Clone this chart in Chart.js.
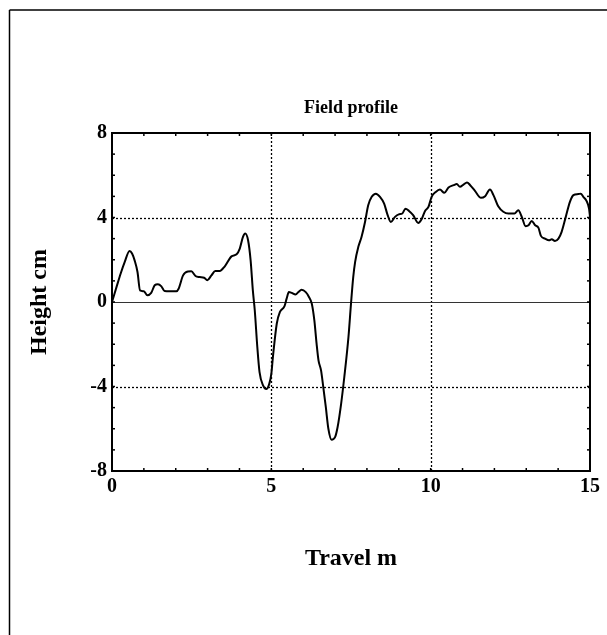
<!DOCTYPE html>
<html>
<head>
<meta charset="utf-8">
<script src="https://cdn.jsdelivr.net/npm/chart.js@4"></script>
<style>
  html, body { margin: 0; padding: 0; background: #fff; }
  canvas { display: block; }
</style>
</head>
<body>
<canvas id="perfil" width="607" height="635"></canvas>
<script>
// travel (m) and height (cm)
const travel = [0,0.15,0.27,0.40,0.55,0.63,0.71,0.80,0.88,1.00,1.11,1.23,1.34,1.44,1.55,1.65,1.81,2.02,2.09,2.23,
  2.38,2.49,2.62,2.75,2.89,2.99,3.12,3.24,3.38,3.54,3.75,3.91,4.01,4.11,4.18,4.27,4.35,4.42,4.48,4.56,
  4.63,4.74,4.84,4.93,5.00,5.05,5.17,5.27,5.41,5.48,5.55,5.64,5.76,5.85,5.95,6.08,6.18,6.27,6.35,6.42,
  6.48,6.56,6.63,6.71,6.79,6.89,7.00,7.08,7.19,7.29,7.42,7.50,7.57,7.63,7.73,7.83,7.94,8.04,8.15,8.28,
  8.41,8.54,8.65,8.75,8.88,9.00,9.11,9.21,9.32,9.45,9.61,9.71,9.82,9.93,10.03,10.16,10.29,10.43,10.56,10.72,
  10.82,10.92,11.03,11.14,11.24,11.39,11.58,11.71,11.86,11.97,12.12,12.28,12.44,12.63,12.75,12.86,12.98,13.07,13.17,13.28,
  13.38,13.46,13.59,13.71,13.80,13.90,14.01,14.11,14.24,14.37,14.48,14.63,14.71,14.79,14.89,14.97,15.00];
const height = [0,0.75,1.34,1.90,2.42,2.30,1.97,1.42,0.55,0.51,0.32,0.43,0.79,0.84,0.74,0.52,0.51,0.51,0.63,1.26,
  1.44,1.45,1.23,1.18,1.15,1.03,1.26,1.47,1.47,1.69,2.16,2.26,2.53,3.08,3.24,2.92,1.97,0.55,-0.39,-2.13,
  -3.32,-3.95,-4.12,-3.90,-3.40,-2.60,-1.03,-0.47,-0.21,0.16,0.47,0.43,0.35,0.47,0.58,0.47,0.24,-0.08,-0.87,-1.97,
  -2.76,-3.24,-4.03,-4.98,-6.00,-6.52,-6.40,-5.92,-4.82,-3.55,-1.66,-0.08,1.18,1.90,2.61,3.08,3.79,4.58,4.98,5.13,
  4.98,4.66,4.11,3.79,4.03,4.15,4.19,4.42,4.31,4.11,3.74,3.90,4.30,4.50,4.98,5.21,5.32,5.17,5.42,5.53,
  5.58,5.45,5.56,5.66,5.53,5.26,4.93,5.01,5.32,5.06,4.53,4.27,4.19,4.19,4.34,4.03,3.59,3.63,3.84,3.63,
  3.52,3.13,3.00,2.92,2.97,2.89,3.00,3.32,4.03,4.74,5.06,5.11,5.13,4.98,4.79,4.42,4.03];

const xTicks = [0, 5, 10, 15];
const yTicks = [-8, -4, 0, 4, 8];
const xGrid = [5, 10];
const yGrid = [-4, 4];

const serif = "'Liberation Serif', 'Times New Roman', serif";
const tickFont = { family: serif, size: 20, weight: 'bold' };

function line(ctx, x1, y1, x2, y2) {
  ctx.beginPath();
  ctx.moveTo(x1, y1);
  ctx.lineTo(x2, y2);
  ctx.stroke();
}

const marco = {
  id: 'marco',
  beforeDraw(chart) {
    const ctx = chart.ctx;
    ctx.save();
    ctx.fillStyle = '#fff';
    ctx.fillRect(0, 0, chart.width, chart.height);
    ctx.restore();
  },
  beforeDatasetsDraw(chart) {
    const { ctx, chartArea: a, scales: { x, y } } = chart;
    ctx.save();
    ctx.strokeStyle = '#000';
    ctx.lineWidth = 1.3;
    ctx.setLineDash([2, 2]);
    xGrid.forEach(v => {
      const px = Math.round(x.getPixelForValue(v)) + 0.5;
      line(ctx, px, a.top, px, a.bottom);
    });
    yGrid.forEach(v => {
      const py = Math.round(y.getPixelForValue(v)) + 0.5;
      line(ctx, a.left, py, a.right, py);
    });
    ctx.setLineDash([]);
    ctx.strokeStyle = '#333';
    ctx.lineWidth = 1.2;
    const y0 = Math.round(y.getPixelForValue(0)) + 0.5;
    line(ctx, a.left, y0, a.right, y0);
    ctx.restore();
  },
  afterDraw(chart) {
    const { ctx, chartArea: a, scales: { x, y } } = chart;
    ctx.save();
    ctx.strokeStyle = '#000';
    // minor ticks, pointing inwards
    ctx.lineWidth = 1.5;
    for (let v = 1; v < 15; v++) {
      const px = x.getPixelForValue(v);
      line(ctx, px, a.bottom, px, a.bottom - 3);
      line(ctx, px, a.top, px, a.top + 3);
    }
    for (let v = -7; v < 8; v++) {
      const py = y.getPixelForValue(v);
      line(ctx, a.left, py, a.left + 3, py);
      line(ctx, a.right, py, a.right - 3, py);
    }
    // plot border
    ctx.lineWidth = 2;
    ctx.strokeRect(a.left, a.top, a.right - a.left, a.bottom - a.top);
    // outer frame (left and top edges)
    ctx.lineWidth = 1.5;
    line(ctx, 9.5, 10, 607, 10);
    line(ctx, 9.5, 10, 9.5, 635);

    // titles
    ctx.fillStyle = '#000';
    ctx.textAlign = 'center';
    ctx.textBaseline = 'middle';
    const cx = (a.left + a.right) / 2;
    ctx.font = 'bold 18px ' + serif;
    ctx.fillText('Field profile', cx, 108);
    ctx.font = 'bold 24px ' + serif;
    ctx.fillText('Travel m', cx, 559);
    ctx.translate(40, (a.top + a.bottom) / 2);
    ctx.rotate(-Math.PI / 2);
    ctx.fillText('Height cm', 0, 0);
    ctx.restore();
  }
};

new Chart(document.getElementById('perfil'), {
  type: 'line',
  data: {
    datasets: [{
      data: travel.map((t, i) => ({ x: t, y: height[i] })),
      borderColor: '#000',
      borderWidth: 2,
      pointRadius: 0,
      cubicInterpolationMode: 'monotone',
      fill: false
    }]
  },
  options: {
    responsive: false,
    animation: false,
    events: [],
    layout: { padding: { left: 12, top: 133, right: 17, bottom: 124 } },
    plugins: { legend: { display: false }, tooltip: { enabled: false } },
    scales: {
      x: {
        type: 'linear',
        min: 0, max: 15,
        afterBuildTicks: s => { s.ticks = xTicks.map(v => ({ value: v })); },
        afterFit: s => { s.height = 40; },
        grid: { display: false, drawTicks: false },
        border: { display: false },
        ticks: { color: '#000', font: tickFont, padding: 4, maxRotation: 0 }
      },
      y: {
        type: 'linear',
        min: -8, max: 8,
        afterBuildTicks: s => { s.ticks = yTicks.map(v => ({ value: v })); },
        afterFit: s => { s.width = 100; },
        grid: { display: false, drawTicks: false },
        border: { display: false },
        ticks: { color: '#000', font: tickFont, padding: 5 }
      }
    }
  },
  plugins: [marco]
});
</script>
</body>
</html>
